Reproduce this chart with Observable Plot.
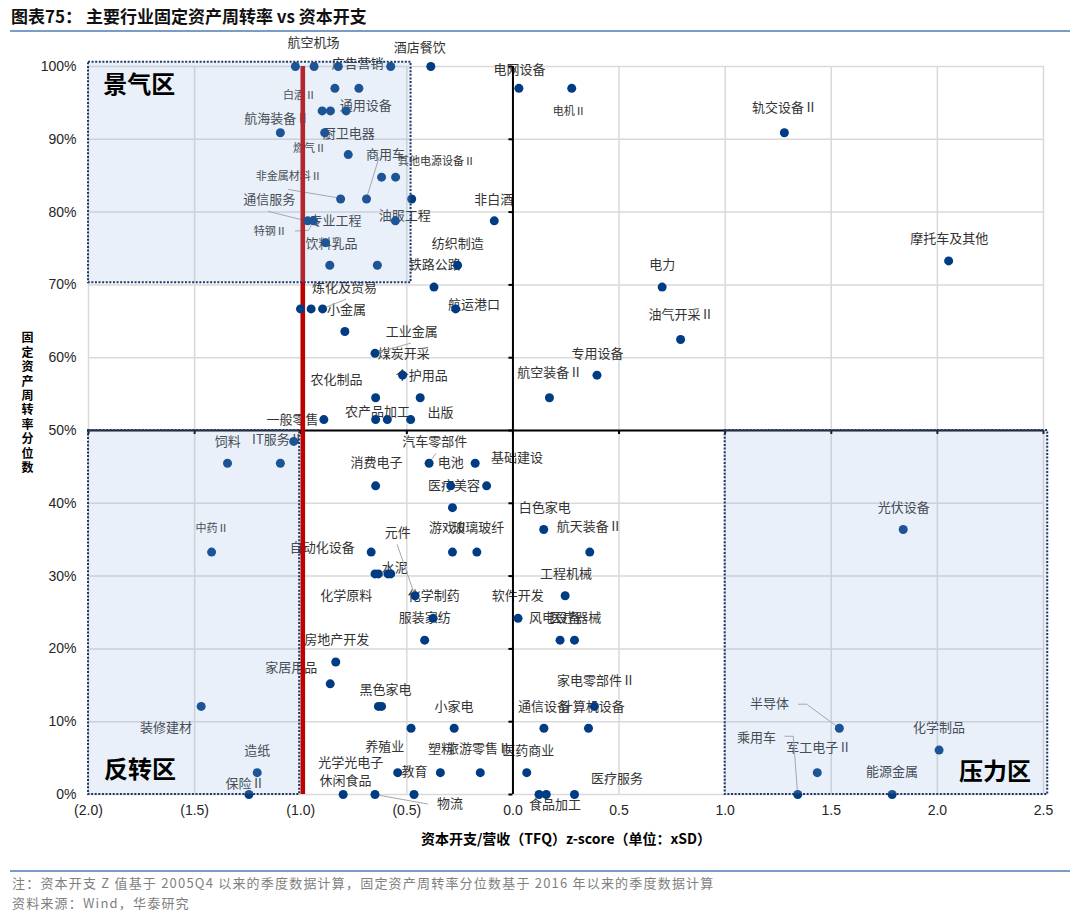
<!DOCTYPE html>
<html><head><meta charset="utf-8">
<script src="https://cdn.jsdelivr.net/npm/d3@7"></script>
<script src="https://cdn.jsdelivr.net/npm/@observablehq/plot@0.6"></script>
<style>
body{margin:0;background:#fff;width:1080px;height:918px;overflow:hidden;position:relative;font-family:"Noto Sans CJK SC",sans-serif;}
#title{position:absolute;left:11px;top:3px;font-size:17px;font-weight:700;color:#111;white-space:pre;}
#tline{position:absolute;left:10px;right:10px;top:30px;height:2px;background:#7a9cc9;}
#chart{position:absolute;left:0;top:33px;}
#fline{position:absolute;left:10px;right:10px;top:870px;height:2px;background:#7a9cc9;}
#note{position:absolute;left:12px;top:873px;font-size:13px;letter-spacing:1.2px;color:#7f7f7f;line-height:20px;white-space:pre;}
g[aria-label="industry-label"] text{letter-spacing:1.2px;}
g[aria-label="industry-label-small"] text{letter-spacing:1px;}
g[aria-label="x-title"] text{letter-spacing:0.5px;}
</style></head>
<body>
<div id="title">图表75： 主要行业固定资产周转率 vs 资本开支</div>
<div id="tline"></div>
<div id="chart"></div>
<div id="fline"></div>
<div id="note">注：资本开支 Z 值基于 2005Q4 以来的季度数据计算，固定资产周转率分位数基于 2016 年以来的季度数据计算
资料来源：Wind，华泰研究</div>
<script>
// ---- data ----
const xTicks = [-2, -1.5, -1, -0.5, 0, 0.5, 1, 1.5, 2, 2.5];
const yTicks = [0, 10, 20, 30, 40, 50, 60, 70, 80, 90, 100];
const capexThreshold = -0.99;

// industries: capex/revenue z-score (x) and fixed-asset turnover percentile (y, %)
const capexZ = [
  -1.025, -0.937, -0.823, -0.576, -0.387,
  -0.839, -0.726, 0.028, 0.277,
  -0.899, -0.860, -0.786,
  -1.096, -0.887, 1.279,
  -0.776,
  -0.619, -0.553,
  -0.812, -0.690, -0.477,
  -0.967, -0.940, -0.554, -0.088,
  -0.883,
  -0.863, -0.639, -0.261, 2.053,
  -0.372, 0.703,
  -1.001, -0.951, -0.897, -0.270,
  -0.792, 0.790,
  -0.650,
  -0.520, 0.396,
  -0.647, -0.437, 0.172,
  -0.891, -0.647, -0.592, -0.482,
  -1.033,
  -1.345, -1.096, -0.395, -0.178,
  -0.647, -0.293, -0.124,
  -0.285,
  0.145, 1.839,
  -1.420, -0.668, -0.285, -0.170, 0.362,
  -0.650, -0.634, -0.589, -0.576,
  -0.461, 0.246,
  -0.376, 0.024,
  -0.416, 0.222, 0.290,
  -0.835,
  -0.861,
  -1.469, -0.634, -0.619, 0.384,
  -0.480, -0.277, 0.146, 0.356, 1.538,
  2.008,
  -1.205, -0.543, -0.342, -0.154, 0.065, 1.434,
  -1.244, -0.800, -0.650, -0.466, 0.123, 0.157, 0.290, 1.342, 1.787
];
const turnover = [
  100, 100, 100, 100, 100,
  97.0, 97.0, 97.0, 97.0,
  93.9, 93.9, 93.9,
  90.9, 90.9, 90.9,
  87.9,
  84.8, 84.8,
  81.8, 81.8, 81.8,
  78.8, 78.8, 78.8, 78.8,
  75.8,
  72.7, 72.7, 72.7, 73.3,
  69.7, 69.7,
  66.7, 66.7, 66.7, 66.7,
  63.6, 62.5,
  60.6,
  57.6, 57.6,
  54.5, 54.5, 54.5,
  51.5, 51.5, 51.5, 51.5,
  48.5,
  45.5, 45.5, 45.5, 45.5,
  42.4, 42.4, 42.4,
  39.4,
  36.4, 36.4,
  33.3, 33.3, 33.3, 33.3, 33.3,
  30.3, 30.3, 30.3, 30.3,
  27.3, 27.3,
  24.2, 24.2,
  21.2, 21.2, 21.2,
  18.2,
  15.2,
  12.1, 12.1, 12.1, 12.1,
  9.1, 9.1, 9.1, 9.1, 9.1,
  6.1,
  3.0, 3.0, 3.0, 3.0, 3.0, 3.0,
  0, 0, 0, 0, 0, 0, 0, 0, 0
];

// industry name labels and where they sit (data units)
const labelText = ["航空机场","酒店餐饮","广告营销","电网设备","电机Ⅱ","轨交设备Ⅱ","白酒Ⅱ","通用设备","航海装备Ⅱ","厨卫电器",
  "燃气Ⅱ","商用车","其他电源设备Ⅱ","非金属材料Ⅱ","通信服务","专业工程","特钢Ⅱ","油服工程","非白酒","饮料乳品",
  "纺织制造","铁路公路","炼化及贸易","小金属","航运港口","工业金属","煤炭开采","个护用品","农化制品","农产品加工",
  "出版","一般零售","电力","油气开采Ⅱ","摩托车及其他","专用设备","航空装备Ⅱ","饲料","IT服务Ⅱ","汽车零部件",
  "消费电子","电池","基础建设","医疗美容","白色家电","航天装备Ⅱ","游戏Ⅱ","玻璃玻纤","元件","自动化设备",
  "水泥","中药Ⅱ","化学原料","化学制药","服装家纺","软件开发","工程机械","风电设备","医疗器械","房地产开发",
  "家居用品","黑色家电","装修建材","小家电","家电零部件Ⅱ","通信设备","计算机设备","造纸","养殖业","塑料",
  "旅游零售Ⅱ","医药商业","光学光电子","教育","休闲食品","保险Ⅱ","物流","食品加工","医疗服务","光伏设备",
  "半导体","化学制品","乘用车","军工电子Ⅱ","能源金属"];
const labelX = [-0.940,-0.439,-0.732,0.031,0.265,1.280,-1.006,-0.694,-1.113,-0.774,
  -0.959,-0.600,-0.360,-1.057,-1.148,-0.836,-1.143,-0.510,-0.090,-0.855,
  -0.260,-0.368,-0.794,-0.784,-0.184,-0.477,-0.515,-0.430,-0.831,-0.638,
  -0.341,-1.039,0.703,0.792,2.056,0.399,0.173,-1.344,-1.110,-0.368,
  -0.643,-0.293,0.019,-0.278,0.150,0.360,-0.304,-0.163,-0.543,-0.898,
  -0.557,-1.418,-0.786,-0.373,-0.416,0.023,0.250,0.198,0.293,-0.830,
  -1.045,-0.601,-1.635,-0.278,0.391,0.146,0.374,-1.205,-0.604,-0.339,
  -0.162,0.072,-0.764,-0.464,-0.789,-1.262,-0.297,0.198,0.490,1.842,
  1.209,2.008,1.148,1.441,1.786];
const labelY = [103.2,102.6,100.4,99.6,93.8,94.3,96.0,94.6,92.8,90.8,
  88.7,87.8,87.0,84.9,81.7,78.8,77.3,79.5,81.7,75.7,
  75.7,72.7,69.6,66.6,67.2,63.6,60.6,57.5,57.0,52.5,
  52.4,51.5,72.7,65.9,76.3,60.6,57.9,48.5,48.7,48.5,
  45.5,45.5,46.2,42.4,39.4,36.7,36.6,36.6,36.0,33.9,
  31.2,36.5,27.3,27.3,24.3,27.3,30.3,24.3,24.3,21.2,
  17.4,14.4,9.2,12.1,15.6,12.1,12.1,6.0,6.5,6.3,
  6.3,6.0,4.4,3.1,1.9,1.5,-1.3,-1.4,2.2,39.4,
  12.4,9.2,7.8,6.4,3.1];
const smallLabels = ["电机Ⅱ","白酒Ⅱ","燃气Ⅱ","其他电源设备Ⅱ","非金属材料Ⅱ","特钢Ⅱ","中药Ⅱ"];

// leader lines from labels to their points (data units)
const leaderId = ["非金属材料Ⅱ","通信服务","特钢Ⅱ","商用车","小金属","煤炭开采","汽车零部件","元件","物流","半导体","乘用车"];
const leaderX = [[-1.058,-0.812],[-1.153,-0.975],[-1.025,-0.963,-0.942],[-0.631,-0.690],[-0.893,-0.789],[-0.640,-0.482],
  [-0.364,-0.395],[-0.545,-0.463],[-0.650,-0.403],[1.345,1.384,1.534],[1.281,1.321,1.341]];
const leaderY = [[83.1,81.9],[80.1,78.8],[77.4,77.5,78.7],[87.5,81.9],[66.8,68.0],[60.7,62.0],
  [46.8,45.6],[34.3,27.4],[0,-1.3],[12.4,12.4,9.2],[8.0,8.0,0.2]];

// quadrant zones
const zoneName = ["景气区","反转区","压力区"];
const zoneX1 = [-2.0, -2.0, 1.0];
const zoneX2 = [-0.48, -1.005, 2.52];
const zoneY1 = [70.3, 0, 0];
const zoneY2 = [100.6, 50, 50];
const zoneLabelX = [-1.761, -1.757, 2.272];
const zoneLabelY = [97.4, 3.3, 3.0];

// ---- build ----
const W = 1080, H = 830, mL = 88, mR = 37, mT = 33, mB = 69;
const pts = capexZ.map((x, i) => ({x, y: turnover[i]}));
const labels = labelText.map((t, i) => ({t, x: labelX[i], y: labelY[i]}));
const bigLabels = labels.filter(d => !smallLabels.includes(d.t));
const tinyLabels = labels.filter(d => smallLabels.includes(d.t));
const leaders = leaderId.flatMap((id, i) => leaderX[i].map((x, j) => ({id, x, y: leaderY[i][j]})));
const zones = zoneName.map((name, i) => ({name, x1: zoneX1[i], x2: zoneX2[i], y1: zoneY1[i], y2: zoneY2[i], lx: zoneLabelX[i], ly: zoneLabelY[i]}));
const fmtX = d => d < 0 ? `(${Math.abs(d).toFixed(1)})` : d.toFixed(1);
const pxPerX = (W - mL - mR) / 4.5, pxPerY = (H - mT - mB) / 100;
const cjk = "'Noto Sans CJK SC', sans-serif";

const chart = Plot.plot({
  width: W, height: H, marginLeft: mL, marginRight: mR, marginTop: mT, marginBottom: mB,
  style: {fontFamily: "'Liberation Sans', Arial, sans-serif", fontSize: "14px", color: "#262626", background: "transparent", overflow: "visible"},
  x: {domain: [-2, 2.5], ticks: xTicks, tickFormat: fmtX, tickSize: 0, tickPadding: 11, label: null},
  y: {domain: [0, 100], ticks: yTicks, tickFormat: d => d + "%", tickSize: 0, tickPadding: 12, label: null},
  marks: [
    Plot.ruleX(xTicks, {stroke: "#d9d9d9", strokeWidth: 1.5}),
    Plot.ruleY(yTicks, {stroke: "#d9d9d9", strokeWidth: 1.5}),
    Plot.text(bigLabels, {x: "x", y: "y", text: "t", fontSize: 13, fill: "#333", fontFamily: cjk, ariaLabel: "industry-label"}),
    Plot.text(tinyLabels, {x: "x", y: "y", text: "t", fontSize: 11, fill: "#333", fontFamily: cjk, ariaLabel: "industry-label-small"}),
    Plot.line(leaders, {x: "x", y: "y", z: "id", stroke: "#a6a6a6", strokeWidth: 1}),
    Plot.ruleY([50], {stroke: "#000", strokeWidth: 2}),
    Plot.ruleX([0], {y1: 0, y2: 100, stroke: "#000", strokeWidth: 2}),
    Plot.ruleY(yTicks, {x1: -4 / pxPerX, x2: 0, stroke: "#000", strokeWidth: 2}),
    Plot.ruleX(xTicks, {y1: 50 - 4 / pxPerY, y2: 50, stroke: "#000", strokeWidth: 2}),
    Plot.ruleX([capexThreshold], {y1: 0, y2: 100, stroke: "#c00000", strokeWidth: 4.5}),
    Plot.dot(pts, {x: "x", y: "y", r: 4.5, fill: "#003c84", stroke: "none"}),
    Plot.rect(zones, {x1: "x1", x2: "x2", y1: "y1", y2: "y2", fill: "#8fb6e0", fillOpacity: 0.2, stroke: "#1f3864", strokeWidth: 2, strokeDasharray: "2 1.6"}),
    Plot.text(zones, {x: "lx", y: "ly", text: "name", fontSize: 24, fontWeight: 700, fill: "#000", fontFamily: cjk}),
    Plot.text(["资本开支/营收（TFQ）z-score（单位：xSD）"], {text: d => d, frameAnchor: "bottom", dy: 49, fontSize: 14, fontWeight: 700, fill: "#000", fontFamily: cjk, ariaLabel: "x-title"}),
    Plot.text(["固定资产周转率分位数".split("").join("\n")], {text: d => d, frameAnchor: "left", dx: -67, dy: -28, lineHeight: 1.2, fontSize: 12, fontWeight: 700, fill: "#000", fontFamily: cjk})
  ]
});
document.getElementById("chart").appendChild(chart);
</script>
</body></html>
